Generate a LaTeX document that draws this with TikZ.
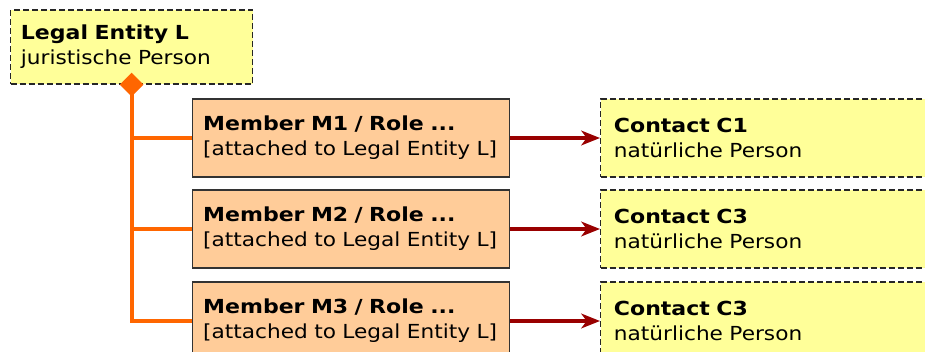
\documentclass[tikz,border=0pt]{standalone}
\usepackage{fontspec}
\setmainfont{DejaVu Sans}[FakeStretch=1.12, BoldFeatures={FakeStretch=1.14}]
\usetikzlibrary{arrows.meta,shapes.geometric}

\definecolor{noteyellow}{HTML}{FFFF99}
\definecolor{memberorange}{HTML}{FFCC99}
\definecolor{trunkorange}{HTML}{FF6600}
\definecolor{linkred}{HTML}{990000}

\tikzset{
  person/.style={draw=black!85, line width=0.9pt, dash pattern=on 4.5pt off 2.25pt,
    fill=noteyellow, anchor=west, align=left, inner xsep=7.5pt,
    font=\fontsize{14.5}{18.75}\selectfont},
  member/.style={draw=black!80, line width=1pt, fill=memberorange, anchor=west,
    align=left, inner xsep=7.5pt, minimum width=237.75pt, minimum height=58.5pt,
    text width=222pt, font=\fontsize{14.5}{18.75}\selectfont},
  trunk/.style={draw=trunkorange, line width=3pt},
  link/.style={draw=linkred, line width=3pt, -{Stealth[length=14pt,width=11pt,inset=4pt]}}
}

\begin{document}
\begin{tikzpicture}[x=0.75pt, y=-0.75pt]
  \useasboundingbox (0,0) rectangle (925,352);
  \clip (0,0) rectangle (925,352);

  % the legal entity on top
  \node[person, minimum width=181.5pt, minimum height=55.5pt, text width=166pt]
    (legal) at (10,47) {\textbf{Legal Entity L}\\juristische Person};

  % members and their contacts
  \foreach \i/\y/\c in {1/138/1, 2/229/3, 3/321/3} {
    \node[member] (m\i) at (192,\y)
      {\textbf{Member M\i{} / Role ...}\\{}[attached to Legal Entity L]};
    \node[person, minimum width=270pt, minimum height=58.5pt, text width=250pt]
      (c\i) at (600,\y) {\textbf{Contact C\c}\\natürliche Person};
    \draw[link] (m\i) -- (c\i);
  }

  % orange tree from the entity down to the members
  \draw[trunk] (legal.south) |- (m3.west);
  \draw[trunk] (legal.south |- m1.west) -- (m1.west);
  \draw[trunk] (legal.south |- m2.west) -- (m2.west);
  \node[diamond, fill=trunkorange, inner sep=0pt, minimum size=18pt] (dia) at (legal.south) {};
\end{tikzpicture}
\end{document}
